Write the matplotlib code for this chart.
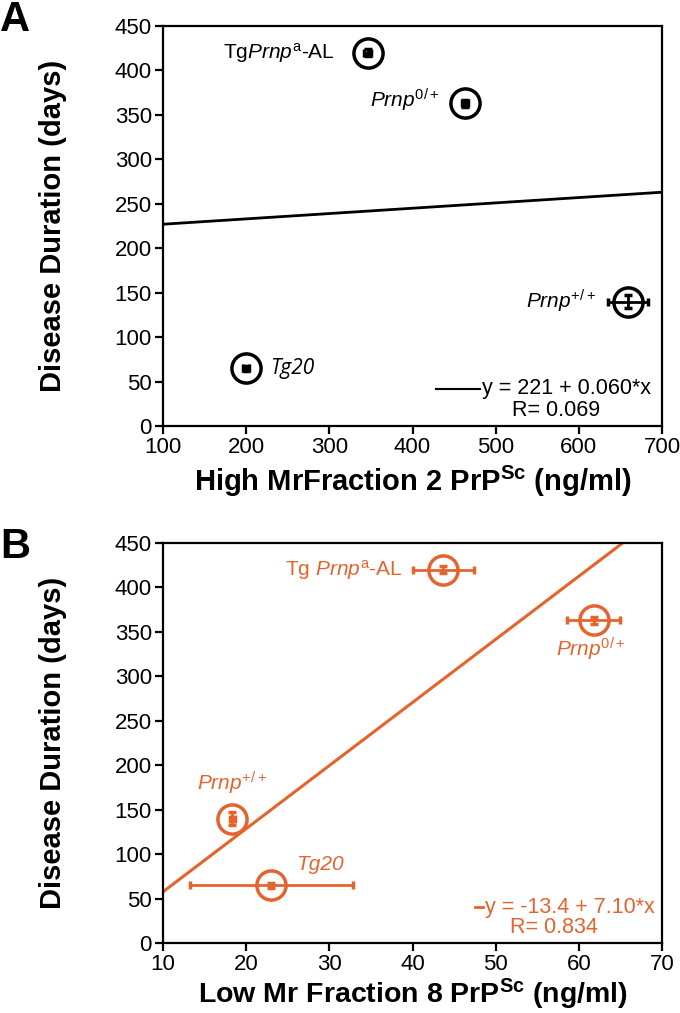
import numpy as np
import matplotlib
matplotlib.use("Agg")
import matplotlib.pyplot as plt
from matplotlib.lines import Line2D

plt.rcParams['font.family'] = ['Liberation Sans', 'DejaVu Sans']
plt.rcParams['mathtext.fontset'] = 'custom'
plt.rcParams['mathtext.rm'] = 'Liberation Sans'
plt.rcParams['mathtext.it'] = 'Liberation Sans:italic'
plt.rcParams['mathtext.bf'] = 'Liberation Sans:bold'

# ---------------- data ----------------
genotypes = ['TgPrnpa-AL', 'Prnp0/+', 'Prnp+/+', 'Tg20']
duration = [420, 363, 140, 65]
duration_err = [4, 4, 7, 3]
high_frac2 = [346, 463, 659, 200]
high_frac2_err = [4, 4, 24, 4]
low_frac8 = [43.7, 61.8, 18.3, 23.0]
low_frac8_err = [3.7, 3.2, 0.3, 9.8]

fitA = (221, 0.060)      # intercept, slope
fitA_R = 0.069
fitB = (-13.4, 7.10)
fitB_R = 0.834

xticksA = [100, 200, 300, 400, 500, 600, 700]
xticksB = [10, 20, 30, 40, 50, 60, 70]
yticks = [0, 50, 100, 150, 200, 250, 300, 350, 400, 450]

ORANGE = '#E5632D'

fig = plt.figure(figsize=(6.8, 10.13), dpi=100)
axA = fig.add_axes([163/680, 1-426/1013, 499/680, 400/1013])
axB = fig.add_axes([163/680, 1-943/1013, 499/680, 400/1013])

def style(ax, xticks):
    ax.set_ylim(0, 450)
    ax.set_xlim(xticks[0], xticks[-1])
    ax.set_xticks(xticks)
    ax.set_yticks(yticks)
    for s in ax.spines.values():
        s.set_linewidth(1.6)
        s.set_color('black')
    ax.tick_params(direction='out', length=6, width=1.6, labelsize=16,
                   top=False, right=False, pad=2)
    ax.set_ylabel('Disease Duration (days)', fontsize=21, fontweight='bold', labelpad=34)

# ---------------- panel A ----------------
style(axA, xticksA)
xA = np.array([xticksA[0], xticksA[-1]])
axA.plot(xA, fitA[0] + fitA[1]*xA, color='black', lw=2, zorder=2)
axA.errorbar(high_frac2, duration, xerr=high_frac2_err, yerr=duration_err,
             fmt='o', ms=21, mfc='none', mec='black', mew=2.5,
             ecolor='black', elinewidth=2, capsize=3, capthick=2, zorder=3)
axA.set_xlabel(r'High MrFraction 2 PrP$^{\mathbf{Sc}}$ (ng/ml)', fontsize=21,
               fontweight='bold', labelpad=4)

lab_fs = 15
axA.text(307, 420, r'Tg$\mathit{Prnp}^{\mathrm{a}}$-AL', ha='right', va='center', fontsize=lab_fs)
axA.text(433, 366, r'$\mathit{Prnp}^{\mathrm{0/+}}$', ha='right', va='center', fontsize=lab_fs)
axA.text(621, 140, r'$\mathit{Prnp}^{\mathrm{+/+}}$', ha='right', va='center', fontsize=lab_fs)
axA.text(229, 65, 'Tg20', ha='left', va='center', fontsize=lab_fs, fontstyle='italic',
         family='Open Sans')

axA.add_line(Line2D([0.548, 0.635], [0.093, 0.093], transform=axA.transAxes,
                    color='black', lw=1.5))
axA.text(0.978, 0.093, 'y = %g + %.3f*x' % fitA, transform=axA.transAxes,
         ha='right', va='center', fontsize=15.5)
axA.text(0.787, 0.040, 'R= %.3f' % fitA_R, transform=axA.transAxes,
         ha='center', va='center', fontsize=15.5)

# ---------------- panel B ----------------
style(axB, xticksB)
xB = np.array([xticksB[0], (450 - fitB[0]) / fitB[1]])
axB.plot(xB, fitB[0] + fitB[1]*xB, color=ORANGE, lw=2.2, zorder=2)
axB.errorbar(low_frac8, duration, xerr=low_frac8_err, yerr=duration_err,
             fmt='o', ms=21, mfc='none', mec=ORANGE, mew=2.5,
             ecolor=ORANGE, elinewidth=2, capsize=3, capthick=2, zorder=3)
axB.set_xlabel(r'Low Mr Fraction 8 PrP$^{\mathbf{Sc}}$ (ng/ml)', fontsize=20.5,
               fontweight='bold', labelpad=1)

axB.text(38.8, 420, r'Tg $\mathit{Prnp}^{\mathrm{a}}$-AL', ha='right', va='center',
         fontsize=lab_fs, color=ORANGE)
axB.text(61.4, 330, r'$\mathit{Prnp}^{\mathrm{0/+}}$', ha='center', va='center',
         fontsize=lab_fs, color=ORANGE)
axB.text(18.3, 180, r'$\mathit{Prnp}^{\mathrm{+/+}}$', ha='center', va='center',
         fontsize=lab_fs, color=ORANGE)
axB.text(28.9, 88, 'Tg20', ha='center', va='center', fontsize=lab_fs,
         fontstyle='italic', color=ORANGE)

axB.add_line(Line2D([0.626, 0.641], [0.090, 0.090], transform=axB.transAxes,
                    color=ORANGE, lw=2))
axB.text(0.985, 0.090, 'y = %g + %.2f*x' % fitB, transform=axB.transAxes,
         ha='right', va='center', fontsize=15.5, color=ORANGE)
axB.text(0.783, 0.040, 'R= %.3f' % fitB_R, transform=axB.transAxes,
         ha='center', va='center', fontsize=15.5, color=ORANGE)

# panel letters
fig.text(0.0, 1 - 20/1013, 'A', fontsize=30, fontweight='bold', va='center', ha='left')
fig.text(0.0, 1 - 547/1013, 'B', fontsize=30, fontweight='bold', va='center', ha='left')

fig.savefig('out.png', dpi=100)
